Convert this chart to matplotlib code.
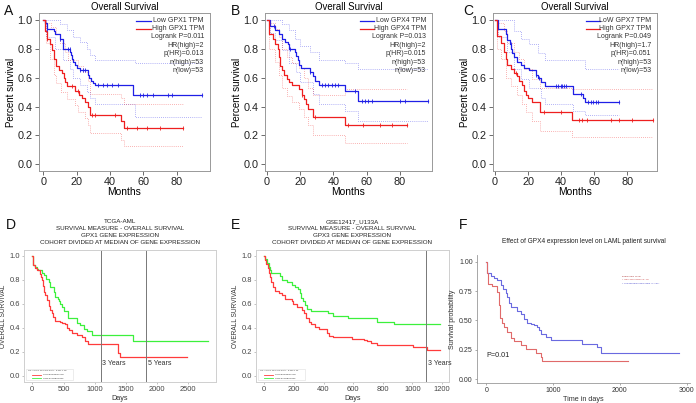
import numpy as np
import matplotlib
matplotlib.use("Agg")
import matplotlib.pyplot as plt

plt.rcParams['font.family'] = ['Liberation Sans', 'DejaVu Sans']

# ---------------- panel A (GEPIA, GPX1) ----------------
a_low_t = [0, 1, 2.4, 6.4, 7.4, 10, 12, 16.3, 16.8, 17.5, 18, 19, 20, 22, 26.7, 27.3, 28.5, 30, 31, 54.1, 95]
a_low_s = [1.0, 0.98, 0.94, 0.92, 0.90, 0.87, 0.80, 0.78, 0.76, 0.73, 0.71, 0.69, 0.67, 0.65, 0.62, 0.60, 0.58, 0.56, 0.55, 0.48, 0.48]
a_high_t = [0, 1.4, 2.4, 4, 5.4, 6.4, 8, 9.4, 11.3, 12.3, 13.3, 14.3, 19.3, 21.3, 23, 25, 26.7, 28, 46.6, 48.5, 83.6]
a_high_s = [1.0, 0.92, 0.87, 0.83, 0.79, 0.73, 0.68, 0.65, 0.63, 0.60, 0.57, 0.54, 0.51, 0.48, 0.46, 0.43, 0.40, 0.345, 0.30, 0.25, 0.25]
a_low_up_t = [0, 8, 10, 14, 18, 22, 26, 28, 31, 55, 95]
a_low_up = [1.0, 1.0, 0.97, 0.93, 0.88, 0.85, 0.80, 0.76, 0.72, 0.70, 0.70]
a_low_lo_t = [0, 2, 7, 12, 16, 18, 22, 26, 28, 31, 55, 95]
a_low_lo = [1.0, 0.88, 0.80, 0.72, 0.66, 0.60, 0.55, 0.50, 0.46, 0.42, 0.33, 0.33]
a_high_up_t = [0, 2, 5, 8, 10, 13, 15, 21, 24, 26.7, 28, 46.6, 48.5, 84]
a_high_up = [1.0, 0.98, 0.95, 0.90, 0.84, 0.78, 0.72, 0.68, 0.64, 0.58, 0.49, 0.46, 0.42, 0.42]
a_high_lo_t = [0, 1.5, 4, 6.5, 8, 11, 14, 19, 21, 25, 26.7, 28, 46.6, 48.5, 84]
a_high_lo = [1.0, 0.84, 0.73, 0.62, 0.56, 0.50, 0.45, 0.41, 0.36, 0.32, 0.27, 0.22, 0.17, 0.13, 0.13]
a_low_cens = [2.5, 10, 15, 16, 22, 24, 25, 33, 36, 38, 41, 45, 58, 60, 62, 66, 75, 77, 95]
a_high_cens = [2.4, 17, 21, 29.5, 31, 43, 50, 56, 62, 70, 84]
a_text = ["Low GPX1 TPM", "High GPX1 TPM", "Logrank P=0.011", "HR(high)=2", "p(HR)=0.013", "n(high)=53", "n(low)=53"]

# ---------------- panel B (GEPIA, GPX4) ----------------
b_low_t = [0, 2, 5, 7, 9, 11, 12.4, 13, 16.6, 17.4, 18.4, 19.5, 20.5, 26, 27.4, 29, 31, 47, 55, 97]
b_low_s = [1.0, 0.96, 0.93, 0.90, 0.87, 0.85, 0.83, 0.80, 0.78, 0.75, 0.72, 0.69, 0.67, 0.64, 0.61, 0.58, 0.55, 0.51, 0.44, 0.44]
b_high_t = [0, 1.5, 3.5, 5, 6.4, 7, 8, 9, 10.4, 12, 13, 15, 19, 21, 22, 23.5, 24.6, 27.4, 47, 84]
b_high_s = [1.0, 0.90, 0.87, 0.83, 0.80, 0.74, 0.68, 0.65, 0.62, 0.59, 0.57, 0.55, 0.52, 0.48, 0.45, 0.42, 0.38, 0.33, 0.275, 0.275]
b_low_up_t = [0, 5, 9, 13, 17, 20, 26, 31, 47, 55, 97]
b_low_up = [1.0, 1.0, 0.97, 0.93, 0.87, 0.82, 0.78, 0.72, 0.70, 0.66, 0.66]
b_low_lo_t = [0, 2, 5, 9, 13, 17.4, 20, 27.4, 31, 47, 55, 97]
b_low_lo = [1.0, 0.91, 0.86, 0.79, 0.70, 0.64, 0.57, 0.49, 0.42, 0.37, 0.30, 0.30]
b_high_up_t = [0, 2, 5, 7, 9, 12, 15, 19, 22, 24.6, 27.4, 47, 84]
b_high_up = [1.0, 0.98, 0.94, 0.88, 0.80, 0.74, 0.70, 0.67, 0.60, 0.53, 0.48, 0.52, 0.52]
b_high_lo_t = [0, 1.5, 5, 7, 9, 12, 15, 19, 22, 24.6, 27.4, 47, 84]
b_high_lo = [1.0, 0.80, 0.71, 0.62, 0.53, 0.47, 0.43, 0.38, 0.33, 0.27, 0.20, 0.145, 0.145]
b_low_cens = [4, 14, 26, 33, 35, 37, 39, 41, 42.6, 53, 57.4, 59, 61, 63, 80, 83, 97]
b_high_cens = [21, 29, 49, 58, 68, 75, 84]
b_text = ["Low GPX4 TPM", "High GPX4 TPM", "Logrank P=0.013", "HR(high)=2", "p(HR)=0.015", "n(high)=53", "n(low)=53"]

# ---------------- panel C (GEPIA, GPX7) ----------------
c_low_t = [0, 2, 6.5, 7.5, 9, 9.8, 10.5, 11.5, 13.5, 15.5, 17.5, 20.6, 24.6, 26, 27.6, 30, 47.4, 53, 54.4, 75]
c_low_s = [1.0, 0.94, 0.90, 0.86, 0.83, 0.80, 0.77, 0.74, 0.71, 0.69, 0.67, 0.65, 0.62, 0.60, 0.57, 0.54, 0.49, 0.46, 0.43, 0.43]
c_high_t = [0, 1.4, 3.4, 5.4, 6.5, 7.5, 10, 11.5, 13.5, 14.5, 16.5, 17.5, 18.5, 20, 22.6, 27.2, 46.4, 95.8]
c_high_s = [1.0, 0.89, 0.84, 0.78, 0.73, 0.69, 0.66, 0.63, 0.61, 0.58, 0.55, 0.51, 0.48, 0.46, 0.43, 0.36, 0.31, 0.31]
c_low_up_t = [0, 7.5, 11.5, 15.5, 20.6, 26, 30, 54.4, 75]
c_low_up = [1.0, 1.0, 0.92, 0.87, 0.83, 0.77, 0.72, 0.66, 0.66]
c_low_lo_t = [0, 2, 7.5, 11.5, 15.5, 20.6, 27.6, 30, 47.4, 54.4, 75]
c_low_lo = [1.0, 0.88, 0.78, 0.66, 0.59, 0.53, 0.46, 0.42, 0.37, 0.34, 0.34]
c_high_up_t = [0, 1.4, 5.4, 7.5, 11.5, 14.5, 17.5, 22.6, 27.2, 46.4, 95.8]
c_high_up = [1.0, 0.98, 0.92, 0.84, 0.78, 0.73, 0.66, 0.59, 0.53, 0.52, 0.52]
c_high_lo_t = [0, 1.4, 3.4, 6.5, 10, 13.5, 16.5, 18.5, 22.6, 27.2, 46.4, 95.8]
c_high_lo = [1.0, 0.80, 0.73, 0.60, 0.54, 0.48, 0.42, 0.36, 0.30, 0.23, 0.19, 0.19]
c_low_cens = [9.5, 24.6, 26.6, 36.7, 38.3, 39.7, 40.7, 41.7, 42.7, 51.8, 56.2, 57.9, 59.5, 60.9, 62.5, 75]
c_high_cens = [12.5, 29.6, 39.7, 50.8, 52.8, 55.4, 70, 75, 83, 95.8]
c_text = ["LoW GPX7 TPM", "High GPX7 TPM", "Logrank P=0.049", "HR(high)=1.7", "p(HR)=0.051", "n(high)=53", "n(low)=53"]

# ---------------- panel D (TCGA-AML, GPX1) ----------------
d_low_t = [0, 16, 43, 70, 97, 150, 190, 220, 272, 283, 347, 363, 417, 430, 443, 470, 507, 566, 577, 710, 720, 764, 833, 880, 951, 1619, 2820]
d_low_s = [1.0, 0.92, 0.91, 0.89, 0.88, 0.86, 0.84, 0.81, 0.78, 0.74, 0.70, 0.66, 0.64, 0.62, 0.60, 0.57, 0.54, 0.51, 0.48, 0.46, 0.44, 0.42, 0.39, 0.37, 0.34, 0.29, 0.29]
d_high_t = [0, 16, 43, 70, 123, 135, 150, 166, 192, 210, 240, 272, 283, 310, 335, 363, 443, 480, 523, 550, 593, 630, 710, 790, 844, 897, 1367, 1405, 2473]
d_high_s = [1.0, 0.92, 0.90, 0.88, 0.85, 0.82, 0.80, 0.75, 0.70, 0.67, 0.63, 0.58, 0.55, 0.52, 0.49, 0.46, 0.45, 0.44, 0.43, 0.40, 0.38, 0.36, 0.34, 0.32, 0.29, 0.27, 0.19, 0.155, 0.155]
d_title = "TCGA-AML\nSURVIVAL MEASURE - OVERALL SURVIVAL\nGPX1 GENE EXPRESSION\nCOHORT DIVIDED AT MEDIAN OF GENE EXPRESSION"
d_ticks = [0, 500, 1000, 1500, 2000, 2500]
d_years = [1095, 1825]
d_year_labels = ["3 Years", "5 Years"]

# ---------------- panel E (GSE12417_U133A, GPX3) ----------------
e_low_t = [0, 7, 18, 29, 40, 47, 107, 118, 151, 185, 207, 230, 240, 251, 262, 273, 291, 318, 433, 462, 562, 762, 873, 1184]
e_low_s = [1.0, 0.97, 0.94, 0.91, 0.88, 0.86, 0.83, 0.80, 0.78, 0.76, 0.74, 0.72, 0.69, 0.65, 0.62, 0.59, 0.56, 0.54, 0.52, 0.50, 0.485, 0.45, 0.43, 0.43]
e_high_t = [0, 7, 13, 24, 29, 36, 47, 56, 69, 96, 118, 140, 184, 196, 218, 255, 269, 284, 300, 318, 340, 367, 422, 440, 462, 589, 673, 696, 718, 762, 1002, 1096, 1184]
e_high_s = [1.0, 0.96, 0.93, 0.90, 0.86, 0.82, 0.78, 0.74, 0.71, 0.69, 0.67, 0.64, 0.62, 0.60, 0.57, 0.55, 0.52, 0.48, 0.45, 0.43, 0.41, 0.39, 0.36, 0.33, 0.32, 0.31, 0.30, 0.29, 0.275, 0.26, 0.24, 0.22, 0.22]
e_title = "GSE12417_U133A\nSURVIVAL MEASURE - OVERALL SURVIVAL\nGPX3 GENE EXPRESSION\nCOHORT DIVIDED AT MEDIAN OF GENE EXPRESSION"
e_ticks = [0, 200, 400, 600, 800, 1000, 1200]
e_years = [1095]
e_year_labels = ["3 Years"]

# ---------------- panel F (GPX4, LAML) ----------------
f_low_t = [0, 5, 15, 65, 115, 165, 215, 255, 290, 315, 340, 365, 465, 515, 565, 615, 665, 715, 765, 790, 815, 890, 965, 1440, 1665, 1715, 2890]
f_low_s = [1.0, 0.95, 0.90, 0.88, 0.86, 0.84, 0.80, 0.77, 0.73, 0.70, 0.65, 0.61, 0.58, 0.55, 0.51, 0.48, 0.47, 0.46, 0.44, 0.42, 0.38, 0.36, 0.335, 0.30, 0.27, 0.225, 0.225]
f_high_t = [0, 3, 10, 25, 90, 165, 190, 205, 240, 265, 315, 365, 415, 515, 590, 740, 815, 830, 2115]
f_high_s = [1.0, 0.92, 0.90, 0.81, 0.79, 0.74, 0.63, 0.52, 0.48, 0.44, 0.40, 0.35, 0.32, 0.29, 0.26, 0.22, 0.19, 0.15, 0.15]
f_title = "Effect of GPX4 expression level on LAML patient survival"

BLUE = "#1f1fe6"
RED = "#ee1f1f"


def surv_at(t, s, x):
    i = np.searchsorted(t, x, side='right') - 1
    return np.array(s)[np.clip(i, 0, len(s) - 1)]


def gepia(rect, low, high, low_ci, high_ci, low_cens, high_cens, texts, xlim):
    ax = fig.add_axes(rect)
    for (t, v) in low_ci:
        ax.step(t, v, where='post', color=BLUE, lw=0.6, ls=(0, (1, 1.5)), alpha=0.45)
    for (t, v) in high_ci:
        ax.step(t, v, where='post', color=RED, lw=0.6, ls=(0, (1, 1.5)), alpha=0.45)
    ax.step(low[0], low[1], where='post', color=BLUE, lw=0.9)
    ax.step(high[0], high[1], where='post', color=RED, lw=0.9)
    ax.plot(low_cens, surv_at(low[0], low[1], low_cens), ls='none', marker='|', ms=3.5, mew=0.6, color=BLUE)
    ax.plot(high_cens, surv_at(high[0], high[1], high_cens), ls='none', marker='|', ms=3.5, mew=0.6, color=RED)
    ax.set_xlim(*xlim)
    ax.set_ylim(-0.046, 1.048)
    ax.set_xticks([0, 20, 40, 60, 80])
    ax.set_yticks([0, 0.2, 0.4, 0.6, 0.8, 1.0])
    ax.set_yticklabels(["0.0", "0.2", "0.4", "0.6", "0.8", "1.0"])
    ax.tick_params(labelsize=7.8, length=3, width=0.6, color='#555555', pad=1.5, labelcolor='#222222')
    for sp in ax.spines.values():
        sp.set_color('#999999')
        sp.set_linewidth(0.7)
    ax.set_title("Overall Survival", fontsize=6.9, pad=2.5)
    ax.set_xlabel("Months", fontsize=7.4, labelpad=0)
    ax.set_ylabel("Percent survival", fontsize=7.0, labelpad=1)
    # legend block
    ys = [0.952, 0.899, 0.850, 0.797, 0.742, 0.689, 0.636]
    ax.plot([0.57, 0.655], [ys[0], ys[0]], color=BLUE, lw=0.9, transform=ax.transAxes)
    ax.plot([0.57, 0.655], [ys[1], ys[1]], color=RED, lw=0.9, transform=ax.transAxes)
    for i, s in enumerate(texts):
        ax.text(0.965, ys[i], s, transform=ax.transAxes, ha='right', va='center', fontsize=5.0, color='#333333')
    return ax


def cbio(rect, low, high, title, ticks, xlim, years, year_labels, hr_text):
    ax = fig.add_axes(rect)
    ax.step(low[0], low[1], where='post', color='#3cf03c', lw=0.9)
    ax.step(high[0], high[1], where='post', color='#ff3b3b', lw=0.9)
    for x, lab in zip(years, year_labels):
        ax.axvline(x, color='#777777', lw=0.7)
        ax.text(x + 25 * (xlim[1] - xlim[0]) / 3000, 0.105, lab, fontsize=5.0, color='#333333', va='center')
    ax.set_xlim(*xlim)
    ax.set_ylim(-0.05, 1.047)
    ax.set_xticks(ticks)
    ax.set_yticks([0, 0.2, 0.4, 0.6, 0.8, 1.0])
    ax.tick_params(labelsize=5.4, length=1.5, width=0.5, color='#aaaaaa', labelcolor='#444444', pad=1.5)
    for sp in ax.spines.values():
        sp.set_color('#cfcfcf')
        sp.set_linewidth(0.7)
    ax.set_title(title, fontsize=4.5, linespacing=1.55, pad=4, color='#222222')
    ax.set_xlabel("Days", fontsize=5.2, labelpad=1, color='#333333')
    ax.set_ylabel("OVERALL SURVIVAL", fontsize=4.7, labelpad=2, color='#333333')
    # tiny legend
    ax.add_patch(plt.Rectangle((0.01, 0.015), 0.245, 0.085, transform=ax.transAxes,
                               facecolor='white', edgecolor='#dddddd', lw=0.4))
    ax.text(0.02, 0.085, hr_text, transform=ax.transAxes, fontsize=1.6, color='#333333', va='center')
    ax.plot([0.04, 0.09], [0.055, 0.055], color='#ff3b3b', lw=0.6, transform=ax.transAxes)
    ax.plot([0.04, 0.09], [0.03, 0.03], color='#3cf03c', lw=0.6, transform=ax.transAxes)
    ax.text(0.10, 0.055, "HIGH EXPRESSION", transform=ax.transAxes, fontsize=1.6, color='#333333', va='center')
    ax.text(0.10, 0.03, "LOW EXPRESSION", transform=ax.transAxes, fontsize=1.6, color='#333333', va='center')
    return ax


fig = plt.figure(figsize=(6.96, 4.03), dpi=100)

gepia([0.0560, 0.5757, 0.2457, 0.3921], (a_low_t, a_low_s), (a_high_t, a_high_s),
      [(a_low_up_t, a_low_up), (a_low_lo_t, a_low_lo)], [(a_high_up_t, a_high_up), (a_high_lo_t, a_high_lo)],
      a_low_cens, a_high_cens, a_text, (-2.5, 100))
gepia([0.3807, 0.5757, 0.2399, 0.3921], (b_low_t, b_low_s), (b_high_t, b_high_s),
      [(b_low_up_t, b_low_up), (b_low_lo_t, b_low_lo)], [(b_high_up_t, b_high_up), (b_high_lo_t, b_high_lo)],
      b_low_cens, b_high_cens, b_text, (-1.2, 99.2))
gepia([0.7083, 0.5757, 0.2356, 0.3921], (c_low_t, c_low_s), (c_high_t, c_high_s),
      [(c_low_up_t, c_low_up), (c_low_lo_t, c_low_lo)], [(c_high_up_t, c_high_up), (c_high_lo_t, c_high_lo)],
      c_low_cens, c_high_cens, c_text, (-1.2, 98))

cbio([0.0345, 0.0521, 0.2759, 0.3275], (d_low_t, d_low_s), (d_high_t, d_high_s), d_title, d_ticks,
     (-133, 2944), d_years, d_year_labels, "HR: 1.64 (1.02-2.63) PVAL: 0.041 1.06")
cbio([0.3678, 0.0521, 0.2773, 0.3275], (e_low_t, e_low_s), (e_high_t, e_high_s), e_title, e_ticks,
     (-56, 1247), e_years, e_year_labels, "HR: 1.61 (1.06-2.43) PVAL: 0.025 1.01")

# panel F
axf = fig.add_axes([0.6853, 0.0496, 0.3060, 0.3176])
axf.step(f_low_t, f_low_s, where='post', color='#6a6ae0', lw=0.8)
axf.step(f_high_t, f_high_s, where='post', color='#e06a6a', lw=0.8)
axf.set_xlim(-140, 3050)
axf.set_ylim(-0.034, 1.057)
axf.set_xticks([0, 1000, 2000, 3000])
axf.set_yticks([0, 0.25, 0.5, 0.75, 1.0])
axf.set_yticklabels(["0.00", "0.25", "0.50", "0.75", "1.00"])
axf.tick_params(labelsize=5.0, length=1.5, width=0.5, color='#888888', labelcolor='#333333', pad=1.5)
for k in ['top', 'right']:
    axf.spines[k].set_visible(False)
for k in ['left', 'bottom']:
    axf.spines[k].set_color('#999999')
    axf.spines[k].set_linewidth(0.6)
axf.set_title(f_title, fontsize=4.7, pad=9, color='#222222')
axf.set_xlabel("Time in days", fontsize=5.2, labelpad=1, color='#333333')
axf.set_ylabel("Survival probability", fontsize=5.0, labelpad=2, color='#333333')
axf.text(0, 0.2, "P=0.01", fontsize=5.2, color='#222222', va='center')
axf.text(0.68, 0.836, "Expression Level", transform=axf.transAxes, fontsize=1.7, color='#aa3333', va='center')
axf.text(0.68, 0.805, "+ High expression (n=43)", transform=axf.transAxes, fontsize=1.7, color='#cc4444', va='center')
axf.text(0.68, 0.774, "+ Low/Medium expression (n=130)", transform=axf.transAxes, fontsize=1.7, color='#4444cc', va='center')

# panel letters
for lab, x, y in [("A", 4, 4), ("B", 231, 4), ("C", 463, 4), ("D", 6, 218), ("E", 231, 218), ("F", 459, 218)]:
    fig.text(x / 696, 1 - y / 403, lab, fontsize=10, va='top', ha='left', color='#111111')

fig.savefig("out.png", dpi=100)
